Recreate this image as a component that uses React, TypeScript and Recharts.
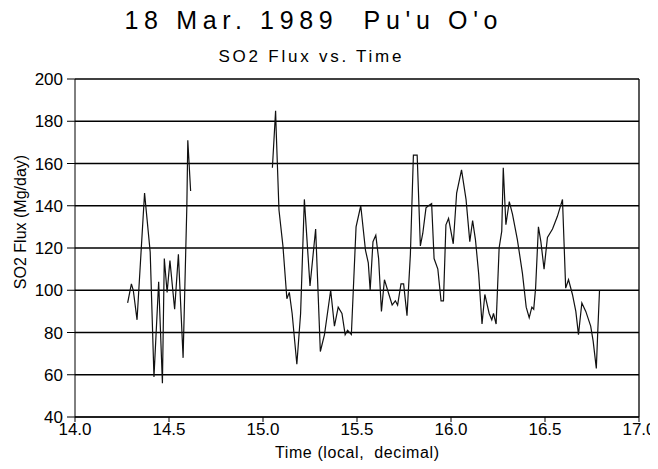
import { LineChart, Line, XAxis, YAxis, CartesianGrid, ReferenceLine } from "recharts";

// [time (decimal hours), SO2 flux (Mg/day)]
const firstRun: [number, number][] = [
  [14.28, 94], [14.3, 103], [14.31, 100], [14.33, 86], [14.37, 146], [14.4, 118],
  [14.42, 59], [14.445, 104], [14.465, 56], [14.475, 115], [14.49, 99], [14.505, 114],
  [14.53, 91], [14.55, 117], [14.575, 68], [14.595, 140], [14.6, 171], [14.615, 147],
];

const secondRun: [number, number][] = [
  [15.05, 158], [15.067, 185], [15.07, 176], [15.085, 138], [15.106, 121], [15.127, 96],
  [15.14, 99], [15.155, 89], [15.18, 65], [15.2, 89], [15.22, 143], [15.25, 102],
  [15.28, 129], [15.305, 71], [15.327, 79], [15.36, 100], [15.38, 83], [15.4, 92],
  [15.42, 89], [15.437, 79], [15.45, 81], [15.47, 79], [15.495, 130], [15.52, 140],
  [15.545, 119], [15.56, 113], [15.57, 100], [15.585, 123], [15.6, 126], [15.615, 115],
  [15.63, 90], [15.646, 105], [15.663, 100], [15.687, 93], [15.704, 95], [15.716, 93],
  [15.734, 103], [15.748, 103], [15.766, 88], [15.784, 117], [15.8, 164], [15.82, 164],
  [15.837, 121], [15.85, 127], [15.867, 139], [15.88, 140], [15.897, 141], [15.91, 115],
  [15.93, 110], [15.947, 95], [15.96, 95], [15.973, 131], [15.987, 134], [16.012, 122],
  [16.03, 146], [16.056, 157], [16.08, 143], [16.1, 123], [16.115, 133], [16.13, 124],
  [16.147, 108], [16.165, 84], [16.18, 98], [16.203, 89], [16.217, 86], [16.226, 89],
  [16.24, 84], [16.256, 120], [16.27, 128], [16.278, 158], [16.292, 131], [16.31, 142],
  [16.327, 136], [16.353, 124], [16.38, 108], [16.4, 92], [16.416, 87], [16.43, 92],
  [16.44, 91], [16.45, 101], [16.465, 130], [16.478, 123], [16.495, 110], [16.513, 125],
  [16.54, 129], [16.566, 135], [16.593, 143], [16.61, 101], [16.625, 105], [16.646, 98],
  [16.664, 90], [16.678, 79], [16.696, 94], [16.717, 90], [16.743, 83], [16.756, 76],
  [16.773, 63], [16.78, 79], [16.79, 100],
];

const timeTicks = [14, 14.5, 15, 15.5, 16, 16.5, 17];
const fluxTicks = [40, 60, 80, 100, 120, 140, 160, 180, 200];

const toRows = (run: [number, number][]) => run.map(([t, flux]) => ({ t, flux }));

const font = "'Liberation Sans', Arial, sans-serif";
const pre = { whiteSpace: "pre" as const };

export default function App() {
  return (
    <div style={{ position: "relative", width: 658, height: 469, margin: -8, background: "#fff" }}>
      <LineChart width={658} height={469} margin={{ top: 79, right: 19, bottom: 0, left: 0 }}>
        <CartesianGrid vertical={false} stroke="#000" strokeWidth={1.3} />
        <XAxis
          type="number"
          dataKey="t"
          domain={[14, 17]}
          ticks={timeTicks}
          tickFormatter={(v: number) => v.toFixed(1)}
          height={52}
          tickSize={5}
          tickMargin={1}
          stroke="#000"
          tick={{ fill: "#000", fontSize: 17, fontFamily: font }}
          allowDuplicatedCategory={false}
        />
        <YAxis
          type="number"
          domain={[40, 200]}
          ticks={fluxTicks}
          width={75}
          tickSize={8}
          tickMargin={4}
          stroke="#000"
          tick={{ fill: "#000", fontSize: 17, fontFamily: font }}
        />
        <ReferenceLine x={17} stroke="#000" strokeWidth={1.3} />
        <Line data={toRows(firstRun)} dataKey="flux" stroke="#111" strokeWidth={1.2} dot={false} isAnimationActive={false} />
        <Line data={toRows(secondRun)} dataKey="flux" stroke="#111" strokeWidth={1.2} dot={false} isAnimationActive={false} />
      </LineChart>
      <svg width={658} height={469} style={{ position: "absolute", left: 0, top: 0, pointerEvents: "none" }}>
        <text x={311} y={29} textAnchor="middle" fontSize={25} fontFamily={font} textLength={373} lengthAdjust="spacing" style={pre}>
          18 Mar. 1989  Pu'u O'o
        </text>
        <text x={310} y={62} textAnchor="middle" fontSize={17} fontFamily={font} textLength={183} lengthAdjust="spacing" style={pre}>
          SO2 Flux vs. Time
        </text>
        <text x={357} y={458} textAnchor="middle" fontSize={16} fontFamily={font} textLength={164} lengthAdjust="spacing" style={pre}>
          Time (local,  decimal)
        </text>
        <text transform="translate(26,222) rotate(-90)" textAnchor="middle" fontSize={16} fontFamily={font}>
          SO2 Flux (Mg/day)
        </text>
      </svg>
    </div>
  );
}
